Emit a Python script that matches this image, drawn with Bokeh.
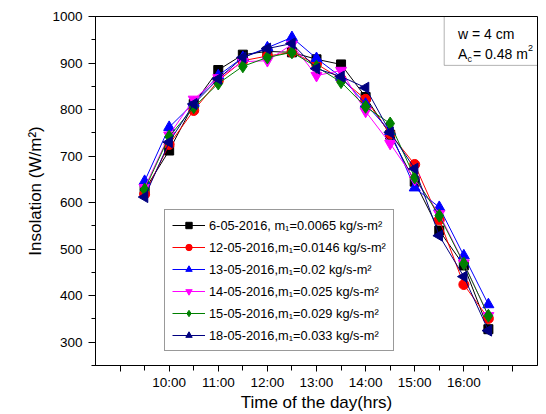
import numpy as np
from bokeh.plotting import figure
from bokeh.models import FixedTicker, Label, BoxAnnotation
from bokeh.embed import file_html
from bokeh.resources import INLINE

# ---- data ----
hours = [9.5, 10, 10.5, 11, 11.5, 12, 12.5, 13, 13.5, 14, 14.5, 15, 15.5, 16, 16.5]
s_0605 = [627, 712, 812, 885, 918, 925, 923, 908, 897, 827, 746, 645, 540, 465, 328]
s_1205 = [618, 725, 798, 862, 905, 915, 923, 898, 866, 822, 748, 682, 563, 424, 351]
s_1305 = [646, 762, 814, 873, 912, 933, 955, 910, 870, 812, 753, 632, 590, 486, 381]
s_1405 = [632, 745, 822, 868, 903, 905, 940, 873, 884, 796, 727, 650, 576, 470, 357]
s_1505 = [628, 742, 805, 856, 893, 912, 923, 892, 859, 806, 770, 654, 572, 469, 357]
s_1805 = [612, 730, 812, 866, 912, 931, 942, 888, 871, 847, 751, 673, 529, 441, 325]

series_labels = [
    "6-05-2016, m\u2081=0.0065 kg/s-m\u00b2",
    "12-05-2016,m\u2081=0.0146 kg/s-m\u00b2",
    "13-05-2016,m\u2081=0.02 kg/s-m\u00b2",
    "14-05-2016,m\u2081=0.025 kg/s-m\u00b2",
    "15-05-2016,m\u2081=0.029 kg/s-m\u00b2",
    "18-05-2016,m\u2081=0.033 kg/s-m\u00b2",
]
x_tick_hours = [9, 10, 11, 12, 13, 14, 15, 16, 17]
x_tick_labels = ["", "10:00", "11:00", "12:00", "13:00", "14:00", "15:00", "16:00", ""]
y_ticks = [300, 400, 500, 600, 700, 800, 900, 1000]

FONT = "Liberation Sans"

p = figure(width=546, height=414, x_range=(8.5, 17.5), y_range=(250, 1000),
           output_backend="svg", toolbar_location=None,
           min_border_left=95, min_border_right=9, min_border_top=16, min_border_bottom=49)
p.grid.visible = False
p.outline_line_color = "black"
p.outline_line_width = 1
p.background_fill_color = "white"
p.border_fill_color = "white"

# axes
xa = p.xaxis[0]
xa.ticker = FixedTicker(ticks=x_tick_hours, minor_ticks=[h + 0.5 for h in x_tick_hours[:-1]])
xa.major_label_overrides = {h: l for h, l in zip(x_tick_hours, x_tick_labels)}
xa.major_label_text_font = FONT
xa.major_label_text_font_size = "13.5px"
xa.major_label_text_color = "black"
xa.major_label_standoff = 3
xa.major_tick_out = 6
xa.major_tick_in = 0
xa.minor_tick_out = 5
xa.minor_tick_in = 0
xa.axis_line_color = "black"
xa.major_tick_line_color = "black"
xa.minor_tick_line_color = "black"
xa.axis_label = "Time of the day(hrs)"
xa.axis_label_text_font = FONT
xa.axis_label_text_font_size = "17px"
xa.axis_label_text_font_style = "normal"
xa.axis_label_text_color = "black"
xa.axis_label_standoff = 0

ya = p.yaxis[0]
ya.ticker = FixedTicker(ticks=y_ticks, minor_ticks=list(range(250, 1001, 50)))
ya.major_label_text_font = FONT
ya.major_label_text_font_size = "13.5px"
ya.major_label_text_color = "black"
ya.major_label_standoff = 6
ya.major_tick_out = 7
ya.major_tick_in = 0
ya.minor_tick_out = 4
ya.minor_tick_in = 0
ya.axis_line_color = "black"
ya.major_tick_line_color = "black"
ya.minor_tick_line_color = "black"
ya.axis_label = "Insolation (W/m\u00b2)"
ya.axis_label_text_font = FONT
ya.axis_label_text_font_size = "17px"
ya.axis_label_text_font_style = "normal"
ya.axis_label_text_color = "black"
ya.axis_label_standoff = 4

# series
styles = [
    (s_0605, "black", "square", 9, 0.0),
    (s_1205, "#ff0000", "circle", 10, 0.0),
    (s_1305, "#0000ff", "triangle", 11, 0.0),
    (s_1405, "#ff00ff", "inverted_triangle", 11, 0.0),
    (s_1505, "#008000", "diamond", 13, 0.0),
    (s_1805, "#000080", "triangle", 11, np.pi / 2),
]
for (vals, col, mk, sz, ang), lab in zip(styles, series_labels):
    p.line(hours, vals, line_color=col, line_width=1, legend_label=lab)
    p.scatter(hours, vals, marker=mk, size=sz, angle=ang, fill_color=col,
              line_color=col, legend_label=lab)

leg = p.legend[0]
leg.location = (69, 14)
leg.label_text_font = FONT
leg.label_text_font_size = "12.8px"
leg.label_text_color = "black"
leg.glyph_width = 33
leg.glyph_height = 16
leg.label_height = 16
leg.label_standoff = 4
leg.spacing = 6
leg.padding = 7
leg.margin = 0
leg.border_line_color = "#333333"
leg.border_line_width = 1
leg.background_fill_alpha = 1

# parameter box (upper right)
p.add_layout(BoxAnnotation(left=15.6, right=17.5, top=1000, bottom=895,
                           fill_alpha=0, line_color="black", line_width=1))
lab_kw = dict(text_font=FONT, text_color="black", text_baseline="middle")
p.add_layout(Label(x=15.88, y=963, text="w = 4 cm", text_font_size="14px", **lab_kw))
p.add_layout(Label(x=15.88, y=920, text="A", text_font_size="14px", **lab_kw))
p.add_layout(Label(x=15.88, y=920, x_offset=9.5, y_offset=-5, text="c",
                   text_font_size="9px", **lab_kw))
p.add_layout(Label(x=15.88, y=920, x_offset=15, text="= 0.48 m", text_font_size="14px", **lab_kw))
p.add_layout(Label(x=15.88, y=920, x_offset=70, y_offset=6, text="2",
                   text_font_size="9px", **lab_kw))

open("out.html", "w").write(file_html(p, INLINE))
